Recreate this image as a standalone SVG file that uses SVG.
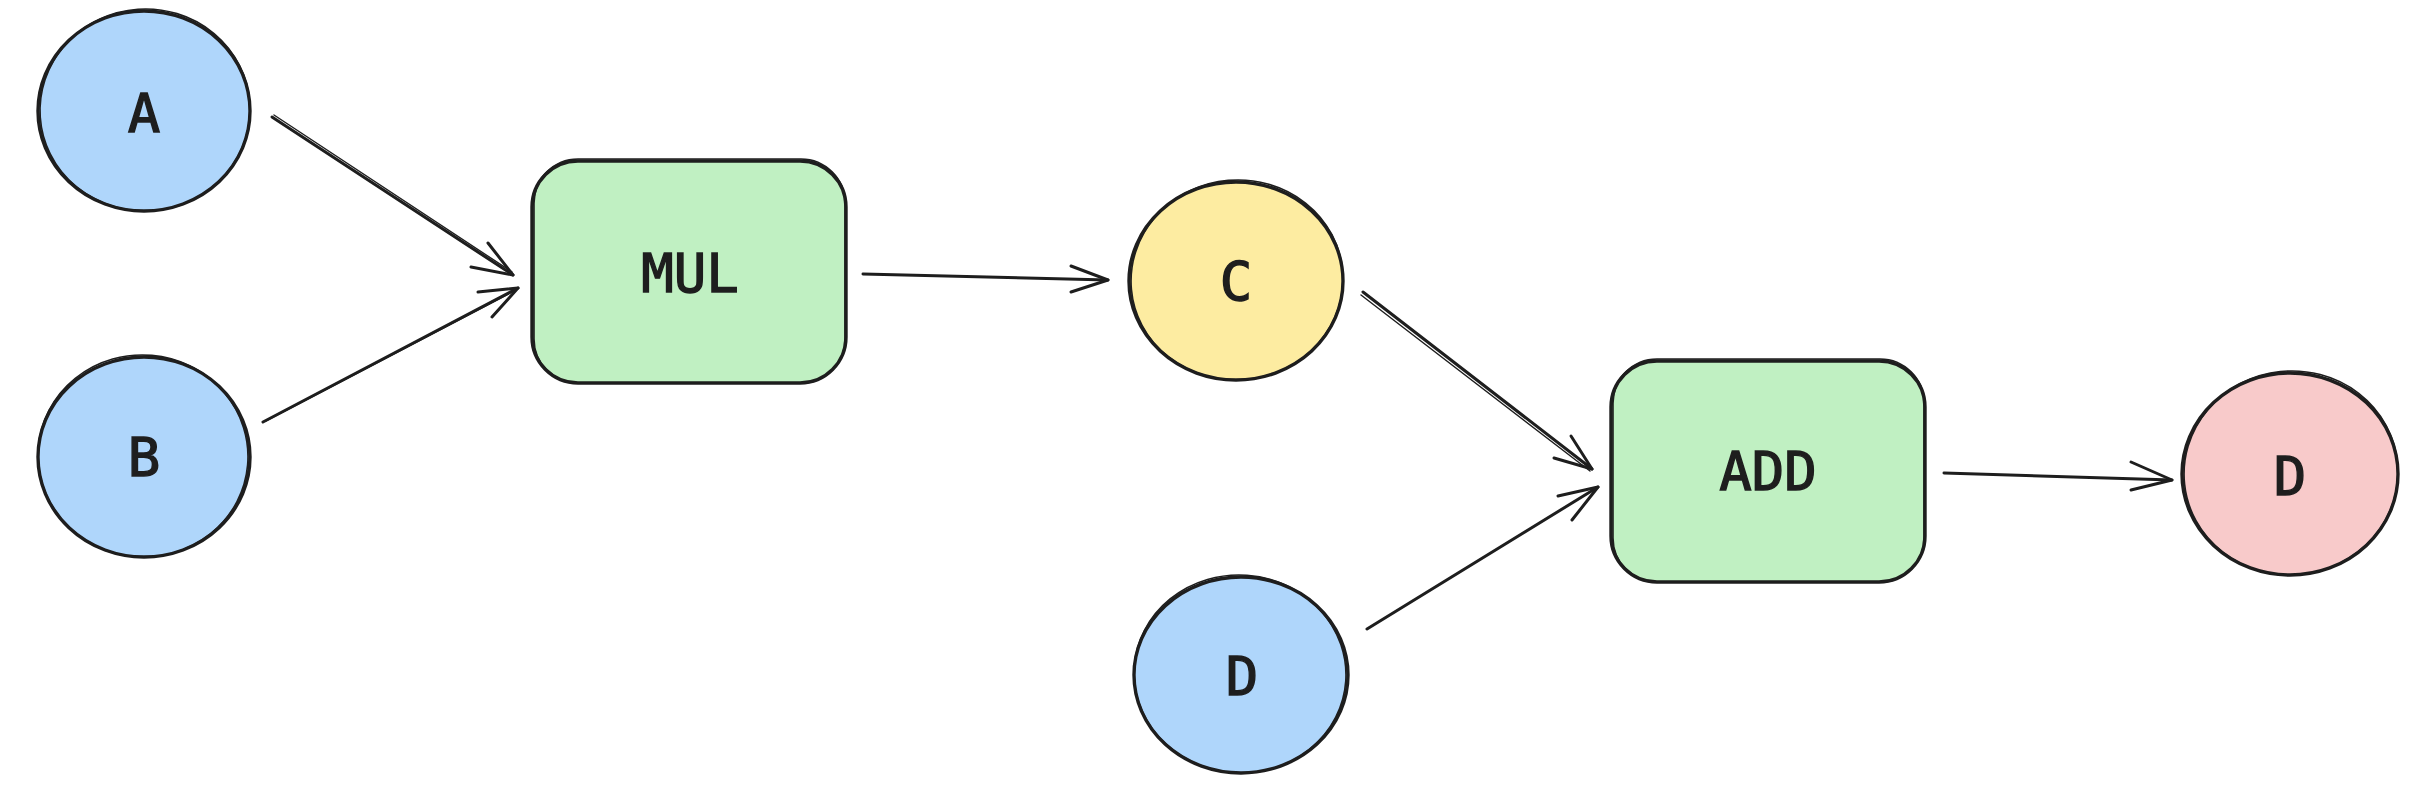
<svg xmlns="http://www.w3.org/2000/svg" width="2424" height="812" viewBox="0 0 2424 812">
<style>
.shape{stroke:#1e1e1e;stroke-width:3.4;stroke-linejoin:round;stroke-linecap:round}
.sk{fill:none;stroke:#1e1e1e;stroke-width:1.6;stroke-linecap:round}
.blue{fill:#afd6fb}.green{fill:#c0f0c2}.yellow{fill:#fdeca1}.pink{fill:#f8caca}
.lbl{font-family:"DejaVu Sans Mono","Liberation Mono",monospace;font-size:54px;fill:#1e1e1e;stroke:#1e1e1e;stroke-width:1.4;text-anchor:middle}
.edge{fill:none;stroke:#1e1e1e;stroke-width:3;stroke-linecap:round;stroke-linejoin:round}
.edge2{fill:none;stroke:#1e1e1e;stroke-width:1.4;stroke-linecap:round}
</style>
<rect width="2424" height="812" fill="#ffffff"/>
<g id="node-A">
<ellipse class="shape blue" cx="144" cy="111" rx="106" ry="100"/>
<ellipse class="sk" cx="145" cy="110" rx="105" ry="101" transform="rotate(-4 145 110)"/>
<text class="lbl" x="144" y="132">A</text>
</g>
<g id="node-B">
<ellipse class="shape blue" cx="144" cy="457" rx="106" ry="100"/>
<ellipse class="sk" cx="143" cy="456" rx="105" ry="101" transform="rotate(5 143 456)"/>
<text class="lbl" x="144" y="476">B</text>
</g>
<g id="node-MUL">
<rect class="shape green" x="532" y="161" width="314" height="222" rx="46"/>
<rect class="sk" x="534" y="159" width="311" height="224" rx="44"/>
<text class="lbl" x="690" y="292">MUL</text>
</g>
<g id="node-C">
<ellipse class="shape yellow" cx="1236" cy="281" rx="107" ry="99"/>
<ellipse class="sk" cx="1237" cy="280" rx="106" ry="100" transform="rotate(-5 1237 280)"/>
<text class="lbl" x="1236" y="300">C</text>
</g>
<g id="node-D-in">
<ellipse class="shape blue" cx="1241" cy="675" rx="107" ry="98"/>
<ellipse class="sk" cx="1240" cy="674" rx="106" ry="99" transform="rotate(4 1240 674)"/>
<text class="lbl" x="1242" y="695">D</text>
</g>
<g id="node-ADD">
<rect class="shape green" x="1611" y="361" width="314" height="221" rx="46"/>
<rect class="sk" x="1613" y="359" width="311" height="223" rx="44"/>
<text class="lbl" x="1768" y="490">ADD</text>
</g>
<g id="node-D-out">
<ellipse class="shape pink" cx="2290" cy="474" rx="108" ry="101"/>
<ellipse class="sk" cx="2291" cy="473" rx="107" ry="102" transform="rotate(-6 2291 473)"/>
<text class="lbl" x="2290" y="495">D</text>
</g>
<g id="connectors">
<path class="edge" d="M272 117 L513 275"/>
<path class="edge2" d="M274 115 L512 272"/>
<path class="edge" d="M471 267 L513 275 L488 243"/>
<path class="edge" d="M263 422 L518 288"/>
<path class="edge2" d="M266 421 L516 290"/>
<path class="edge" d="M478 292 L518 288 L492 317"/>
<path class="edge" d="M863 274 L1108 280"/>
<path class="edge" d="M1071 266 L1108 280 L1071 292"/>
<path class="edge" d="M1363 292 L1592 469"/>
<path class="edge2" d="M1361 295 L1590 471"/>
<path class="edge" d="M1571 436 L1592 469 L1554 458"/>
<path class="edge" d="M1367 629 L1598 487"/>
<path class="edge" d="M1558 496 L1598 487 L1572 520"/>
<path class="edge" d="M1944 473 L2172 480"/>
<path class="edge" d="M2131 462 L2172 480 L2131 490"/>
</g>
</svg>
